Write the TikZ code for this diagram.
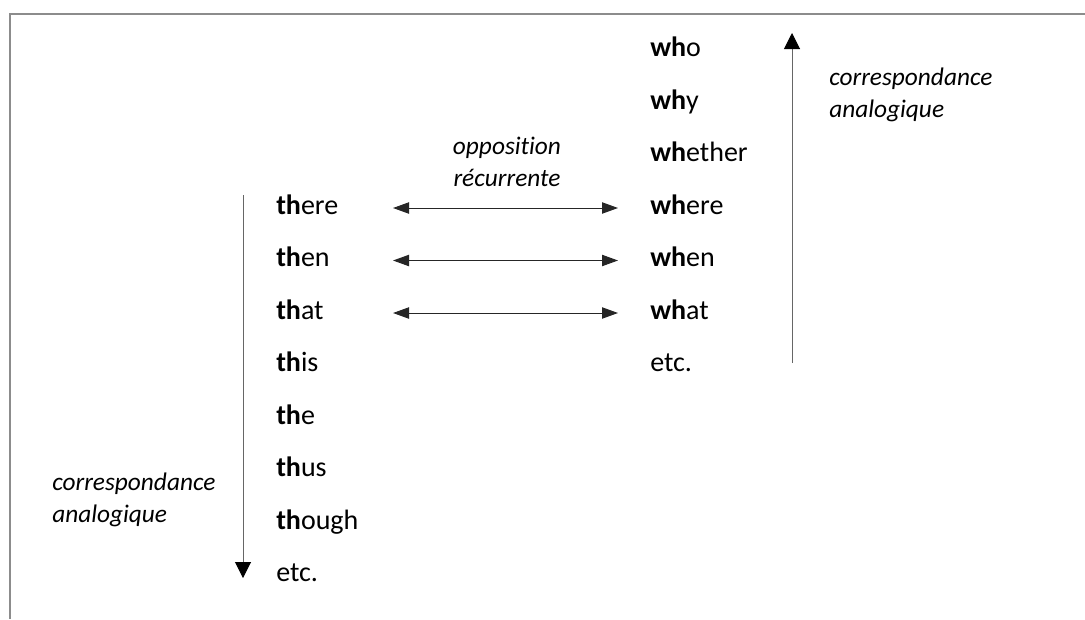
\documentclass[tikz,border=0pt]{standalone}
\usepackage{fontspec}
\setmainfont{Carlito}[Ligatures=NoCommon]
\usetikzlibrary{arrows.meta}
\tikzset{
	word/.style={anchor=base west, inner sep=0pt, font=\fontsize{21}{25}\selectfont, text height=13pt, text depth=4pt},
	note/.style={anchor=base west, inner sep=0pt, align=left, font=\fontsize{19}{23.6}\selectfont\itshape},
	link/.style={black!85, line width=0.75pt, {Triangle[length=12pt,width=8.5pt]}-{Triangle[length=12pt,width=8.5pt]}},
	axis/.style={black!60, line width=0.75pt, -{Triangle[length=12pt,width=12pt,black]}},
}
\begin{document}
\begin{tikzpicture}[x=0.75pt,y=-0.75pt]
\useasboundingbox (0,0) rectangle (1085,619);
% frame
\draw[black!45, line width=0.9pt] (1085,14) -- (10,14) -- (10,619);
% th column
\node[word] (th1) at (276,214) {\textbf{th}ere};
\node[word] (th2) at (276,266.5) {\textbf{th}en};
\node[word] (th3) at (276,319) {\textbf{th}at};
\node[word] (th4) at (276,371.5) {\textbf{th}is};
\node[word] (th5) at (276,424) {\textbf{th}e};
\node[word] (th6) at (276,476.5) {\textbf{th}us};
\node[word] (th7) at (276,529) {\textbf{th}ough};
\node[word] (th8) at (276,581.5) {etc.};
% wh column
\node[word] (wh1) at (650,56.5) {\textbf{wh}o};
\node[word] (wh2) at (650,109) {\textbf{wh}y};
\node[word] (wh3) at (650,161.5) {\textbf{wh}ether};
\node[word] (wh4) at (650,214) {\textbf{wh}ere};
\node[word] (wh5) at (650,266.5) {\textbf{wh}en};
\node[word] (wh6) at (650,319) {\textbf{wh}at};
\node[word] (wh7) at (650,371.5) {etc.};
% labels (base = last line)
\node[note, anchor=base, align=center] (opp) at (507,186) {opposition\\récurrente};
\node[note] (anaR) at (829,117) {correspondance\\analogique};
\node[note] (anaL) at (52,522) {correspondance\\analogique};
% arrows
\coordinate (ll) at (393,0);
\coordinate (rr) at (618,0);
\draw[link] (th1.west -| ll) -- (wh4.west -| rr);
\draw[link] (th2.west -| ll) -- (wh5.west -| rr);
\draw[link] (th3.west -| ll) -- (wh6.west -| rr);
\coordinate (dtop) at (243,195);
\coordinate (dtip) at (243,578);
\coordinate (ubot) at (792,363);
\coordinate (utip) at (792,33);
\draw[axis] (dtop) -- (dtip);
\draw[axis] (ubot) -- (utip);
\end{tikzpicture}
\end{document}
